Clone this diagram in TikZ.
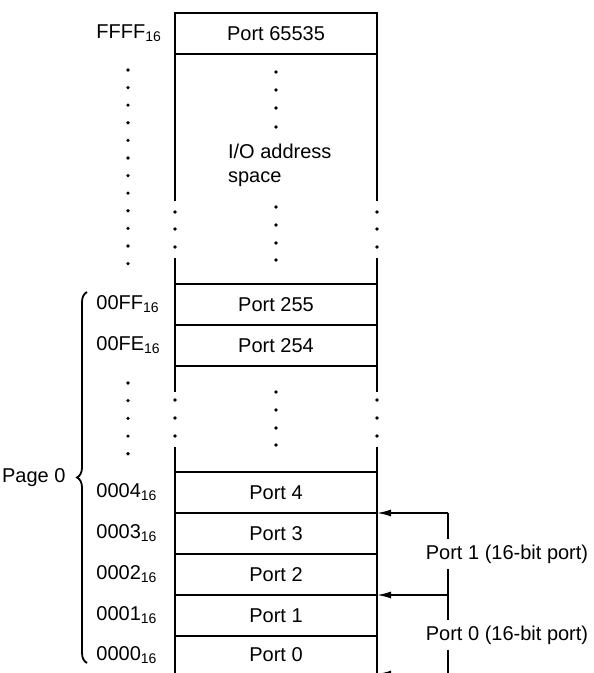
\documentclass[tikz,border=0pt]{standalone}
\usepackage{fontspec}
\setmainfont{Liberation Sans}
\usetikzlibrary{positioning}
\usetikzlibrary{arrows.meta}
\usetikzlibrary{decorations.pathreplacing}

\begin{document}
\begin{tikzpicture}[x=0.5pt,y=0.5pt,
    row/.style={draw,line width=1.1pt,minimum width=101pt,minimum height=20.5pt,inner sep=0pt,outer sep=0pt},
    addr/.style={anchor=west,inner sep=0pt},
    side/.style={line width=1.2pt},
    ptr/.style={line width=0.8pt,-{Latex[length=7pt,width=3.5pt]}},
    brk/.style={line width=0.9pt},
    wide/.style={inner sep=2.5pt}]
  \useasboundingbox (0,0) rectangle (593,673);

  \coordinate (ax) at (96,0);
  \coordinate (br) at (448,0);

  \node[row] (p65535) at (276,639.5) {Port 65535};
  \node[row] (p255) at (276,368.5) {Port 255};
  \node[row,below=0pt of p255] (p254) {Port 254};
  \node[row] (p4) at (276,180.5) {Port 4};
  \node[row,below=0pt of p4] (p3) {Port 3};
  \node[row,below=0pt of p3] (p2) {Port 2};
  \node[row,below=0pt of p2] (p1) {Port 1};
  \node[row,below=0pt of p1,minimum height=19pt] (p0) {Port 0};

  \foreach \s in {west,east} {
    \draw[side] (p65535.south \s) -- +(0,-147);
    \draw[side] (p255.north \s) -- +(0,26);
    \draw[side] (p254.south \s) -- +(0,-26);
    \draw[side] (p4.north \s) -- +(0,25);
  }

  \foreach \x in {175,377}
    \foreach \y in {461,444,426,273,255,237}
      \fill (\x,\y) circle (1.8);
  \foreach \y in {601,583,565,546,466,448,430,413,281,263,245,228}
    \fill (276,\y) circle (1.8);
  \foreach \i in {0,...,11}
    \fill (128,603-17.6*\i) circle (1.8);
  \foreach \i in {0,...,4}
    \fill (128,290-17.7*\i) circle (1.8);

  \node[anchor=west,align=left] (io) at (221,508) {I/O address\\space};

  \node[addr] (aFFFF) at (ax |- p65535) {FFFF\textsubscript{16}};
  \node[addr] (a00FF) at (ax |- p255) {00FF\textsubscript{16}};
  \node[addr] (a00FE) at (ax |- p254) {00FE\textsubscript{16}};
  \node[addr] (a0004) at (ax |- p4) {0004\textsubscript{16}};
  \node[addr] (a0003) at (ax |- p3) {0003\textsubscript{16}};
  \node[addr] (a0002) at (ax |- p2) {0002\textsubscript{16}};
  \node[addr] (a0001) at (ax |- p1) {0001\textsubscript{16}};
  \node[addr] (a0000) at (ax |- p0) {0000\textsubscript{16}};

  \coordinate (pgbot) at (87,10);
  \coordinate (pgtop) at (87,381);
  \draw[line width=0.9pt,decorate,decoration={brace,amplitude=5pt}] (pgbot) -- (pgtop)
    node[midway,left=7pt] (page) {Page 0};

  \node[wide] (w1) at (507,119) {Port 1 (16-bit port)};
  \node[wide] (w0) at (507,38) {Port 0 (16-bit port)};

  \draw[brk] (br |- p3.north) -- (br |- w1.north);
  \draw[brk] (br |- w1.south) -- (br |- p1.north);
  \draw[brk] (br |- p1.north) -- (br |- w0.north);
  \draw[brk] (br |- w0.south) -- (br |- p0.south);
  \draw[ptr] (br |- p3.north) -- (p3.north east);
  \draw[ptr] (br |- p1.north) -- (p1.north east);
  \draw[ptr] (br |- p0.south) -- (p0.south east);
\end{tikzpicture}
\end{document}
